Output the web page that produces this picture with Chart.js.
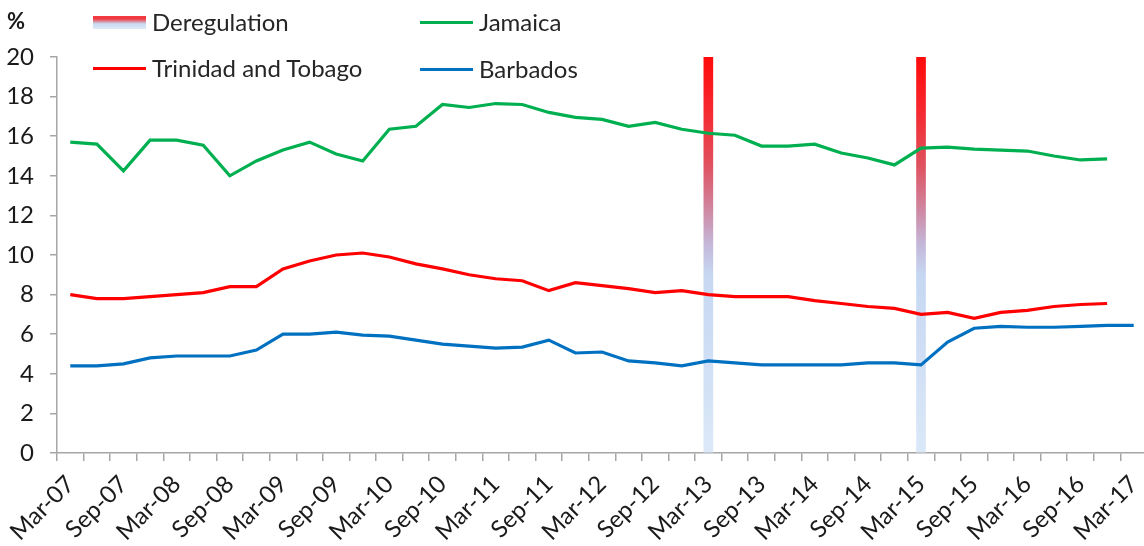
<!DOCTYPE html>
<html>
<head>
<meta charset="utf-8">
<script src="https://cdn.jsdelivr.net/npm/chart.js@4/dist/chart.umd.min.js"></script>
<style>
  html, body { margin: 0; padding: 0; overflow: hidden; background: #fff; }
  #wrap { position: relative; width: 1150px; height: 546px; }
  #unit { position: absolute; left: 7px; top: 7px; font: bold 22px Lato, sans-serif; color: #1a1a1a; }
  .key { position: absolute; display: flex; align-items: center; font: 24px Lato, sans-serif; line-height: 28px; color: #262626; white-space: nowrap; }
  .key .sw { display: inline-block; width: 53px; height: 3px; margin-right: 6px; }
  .key .sw.band { height: 13px; background: linear-gradient(to bottom, #f03a40 0%, #f03a40 22%, #c8daf2 60%, #dfeaf8 100%); }
</style>
</head>
<body>
<div id="wrap">
  <canvas id="rateChart"></canvas>
  <div id="unit">%</div>
  <div class="key" style="left:93px; top:8px;"><span class="sw band"></span>Deregulation</div>
  <div class="key" style="left:93px; top:54px;"><span class="sw" style="background:#ff0000"></span>Trinidad and Tobago</div>
  <div class="key" style="left:420px; top:8px;"><span class="sw" style="background:#00b050"></span>Jamaica</div>
  <div class="key" style="left:420px; top:55px;"><span class="sw" style="background:#0070c0"></span>Barbados</div>
</div>
<script>
const quarters = [
  'Mar-07', 'Jun-07', 'Sep-07', 'Dec-07', 'Mar-08', 'Jun-08', 'Sep-08', 'Dec-08',
  'Mar-09', 'Jun-09', 'Sep-09', 'Dec-09', 'Mar-10', 'Jun-10', 'Sep-10', 'Dec-10',
  'Mar-11', 'Jun-11', 'Sep-11', 'Dec-11', 'Mar-12', 'Jun-12', 'Sep-12', 'Dec-12',
  'Mar-13', 'Jun-13', 'Sep-13', 'Dec-13', 'Mar-14', 'Jun-14', 'Sep-14', 'Dec-14',
  'Mar-15', 'Jun-15', 'Sep-15', 'Dec-15', 'Mar-16', 'Jun-16', 'Sep-16', 'Dec-16',
  'Mar-17'
];

const jamaica = [
  15.7, 15.6, 14.25, 15.8, 15.8, 15.55, 14.0, 14.75, 15.3, 15.7,
  15.1, 14.75, 16.35, 16.5, 17.6, 17.45, 17.65, 17.6, 17.2, 16.95,
  16.85, 16.5, 16.7, 16.35, 16.15, 16.05, 15.5, 15.5, 15.6, 15.15,
  14.9, 14.55, 15.4, 15.45, 15.35, 15.3, 15.25, 15.0, 14.8, 14.85
];

const trinidad = [
  8.0, 7.8, 7.8, 7.9, 8.0, 8.1, 8.4, 8.4, 9.3, 9.7,
  10.0, 10.1, 9.9, 9.55, 9.3, 9.0, 8.8, 8.7, 8.2, 8.6,
  8.45, 8.3, 8.1, 8.2, 8.0, 7.9, 7.9, 7.9, 7.7, 7.55,
  7.4, 7.3, 7.0, 7.1, 6.8, 7.1, 7.2, 7.4, 7.5, 7.55
];

const barbados = [
  4.4, 4.4, 4.5, 4.8, 4.9, 4.9, 4.9, 5.2, 6.0, 6.0,
  6.1, 5.95, 5.9, 5.7, 5.5, 5.4, 5.3, 5.35, 5.7, 5.05,
  5.1, 4.65, 4.55, 4.4, 4.65, 4.55, 4.45, 4.45, 4.45, 4.45,
  4.55, 4.55, 4.45, 5.6, 6.3, 6.4, 6.35, 6.35, 6.4, 6.45,
  6.45
];

// quarters in which deregulation took effect, drawn as full-height bands
const deregulationDates = ['Mar-13', 'Mar-15'];
const deregulationLevel = 20;
const deregulation = quarters.map(q => deregulationDates.includes(q) ? deregulationLevel : null);

const yTicks = { min: 0, max: 20, step: 2 };

const axisGrey = '#a6a6a6';
const tickFont = { family: 'Lato, sans-serif', size: 24 };

function bandFill(context) {
  const { ctx, chartArea } = context.chart;
  if (!chartArea) return '#ff0000';
  const g = ctx.createLinearGradient(0, chartArea.top, 0, chartArea.bottom);
  g.addColorStop(0, '#ff0a0a');
  g.addColorStop(0.14, '#f52a30');
  g.addColorStop(0.27, '#e0505e');
  g.addColorStop(0.38, '#d0849e');
  g.addColorStop(0.47, '#c4b6d8');
  g.addColorStop(0.55, '#c6d7f2');
  g.addColorStop(1, '#dbe8f8');
  return g;
}

function lineSet(label, data, color) {
  return {
    type: 'line',
    label: label,
    data: data,
    borderColor: color,
    backgroundColor: color,
    borderWidth: 3.2,
    pointRadius: 0,
    tension: 0,
    fill: false,
    order: 0,
  };
}

new Chart(document.getElementById('rateChart'), {
  data: {
    labels: quarters,
    datasets: [
      lineSet('Jamaica', jamaica, '#00b050'),
      lineSet('Trinidad and Tobago', trinidad, '#ff0000'),
      lineSet('Barbados', barbados, '#0070c0'),
      {
        type: 'bar',
        label: 'Deregulation',
        data: deregulation,
        backgroundColor: bandFill,
        barThickness: 9,
        order: 1,
      },
    ],
  },
  options: {
    responsive: true,
    maintainAspectRatio: false,
    animation: false,
    layout: { padding: { top: 57, right: 3, left: 0, bottom: 0 } },
    plugins: {
      legend: { display: false },
      tooltip: { enabled: false },
    },
    scales: {
      x: {
        offset: true,
        grid: { offset: true, drawOnChartArea: false, tickLength: 8, color: axisGrey, lineWidth: 1.5 },
        border: { color: axisGrey, width: 1.5 },
        ticks: {
          autoSkip: false,
          minRotation: 45,
          maxRotation: 45,
          padding: 9,
          color: '#1a1a1a',
          font: tickFont,
          callback: (value, index) => index % 2 === 0 ? quarters[index] : '',
        },
        afterFit: (scale) => {
          scale.height = 93;
          // rotated labels hang to the left only; keep the plot full width
          scale.paddingLeft = 0;
          scale.paddingRight = 0;
        },
      },
      y: {
        min: yTicks.min,
        max: yTicks.max,
        grid: { drawOnChartArea: false, tickLength: 7, color: axisGrey, lineWidth: 1.5 },
        border: { color: axisGrey, width: 1.5 },
        ticks: {
          stepSize: yTicks.step,
          padding: 16,
          color: '#1a1a1a',
          font: tickFont,
        },
        afterFit: (scale) => {
          scale.width = 57;
          scale.paddingTop = 0;
          scale.paddingBottom = 0;
        },
      },
    },
  },
});
</script>
</body>
</html>
